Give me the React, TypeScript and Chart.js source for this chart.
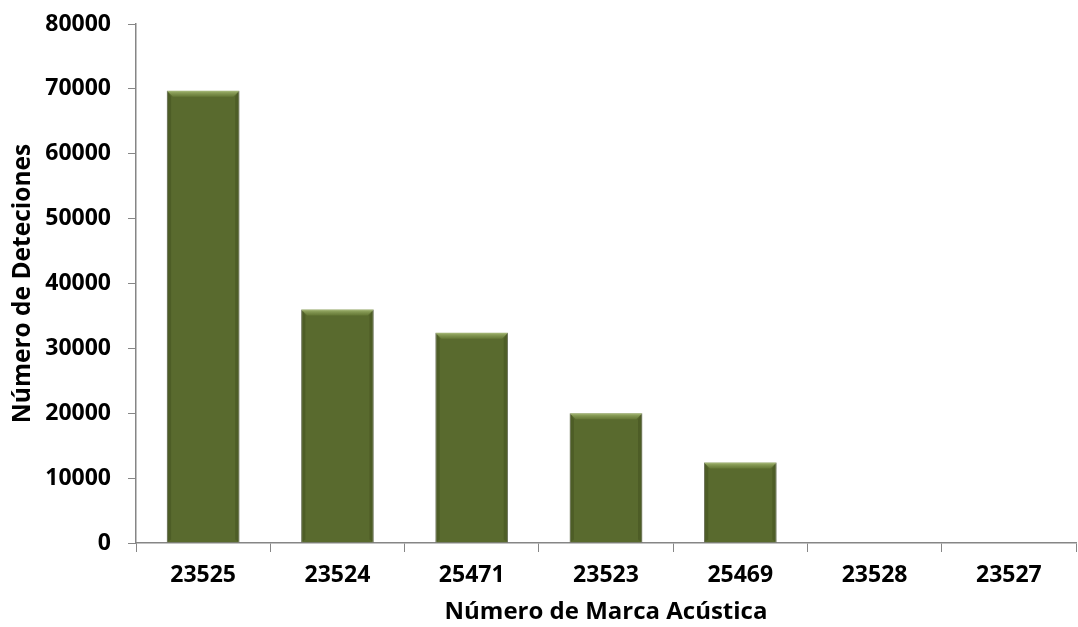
import React, { useEffect, useRef } from "react";
import { Chart, registerables } from "chart.js";

Chart.register(...registerables);

const categories = ["23525", "23524", "25471", "23523", "25469", "23528", "23527"];
const detections = [69700, 36000, 32400, 20000, 12400, 0, 0];
const yTicks = [0, 10000, 20000, 30000, 40000, 50000, 60000, 70000, 80000];

const FONT = "'Open Sans', 'Liberation Sans', sans-serif";

const bevelPlugin = {
  id: "bevel",
  afterDatasetsDraw(chart: any) {
    const ctx = chart.ctx;
    const meta = chart.getDatasetMeta(0);
    meta.data.forEach((bar: any) => {
      const { x, y, base, width } = bar.getProps(["x", "y", "base", "width"], true);
      const h = base - y;
      if (h < 2) return;
      const l = x - width / 2;
      const r = x + width / 2;
      const b = Math.min(6, h / 2);
      ctx.save();
      const g = ctx.createLinearGradient(0, y, 0, y + b);
      g.addColorStop(0, "rgba(165,185,115,0.95)");
      g.addColorStop(1, "rgba(110,130,60,0.6)");
      ctx.fillStyle = g;
      ctx.beginPath();
      ctx.moveTo(l, y);
      ctx.lineTo(r, y);
      ctx.lineTo(r - b, y + b);
      ctx.lineTo(l + b, y + b);
      ctx.closePath();
      ctx.fill();
      ctx.fillStyle = "rgba(65,80,30,0.5)";
      ctx.beginPath();
      ctx.moveTo(l, y);
      ctx.lineTo(l + b * 0.7, y + b);
      ctx.lineTo(l + b * 0.7, base - b * 0.5);
      ctx.lineTo(l, base);
      ctx.closePath();
      ctx.fill();
      ctx.beginPath();
      ctx.moveTo(r, y);
      ctx.lineTo(r - b * 0.7, y + b);
      ctx.lineTo(r - b * 0.7, base - b * 0.5);
      ctx.lineTo(r, base);
      ctx.closePath();
      ctx.fill();
      ctx.restore();
    });
  },
};

export default function App() {
  const ref = useRef<HTMLCanvasElement>(null);
  useEffect(() => {
    document.body.style.margin = "0";
    const chart = new Chart(ref.current!, {
      type: "bar",
      data: {
        labels: categories,
        datasets: [
          {
            data: detections,
            backgroundColor: "#596a2e",
            borderColor: "rgba(110,110,110,0.7)",
            borderWidth: 1,
            barPercentage: 0.54,
            categoryPercentage: 1,
          },
        ],
      },
      options: {
        animation: false,
        responsive: false,
        maintainAspectRatio: false,
        layout: { padding: { top: 24, right: 2, left: 0, bottom: 0 } },
        plugins: { legend: { display: false }, tooltip: { enabled: false } },
        scales: {
          x: {
            afterFit: (scale: any) => {
              scale.height = 84;
            },
            grid: {
              offset: true,
              drawOnChartArea: false,
              drawTicks: true,
              tickLength: 9,
              color: "#868686",
            },
            border: { color: "#868686", width: 1.5 },
            ticks: {
              color: "#000",
              font: { family: FONT, size: 23, weight: "bold" },
              padding: 10,
              maxRotation: 0,
            },
            title: {
              display: true,
              text: "Número de Marca Acústica",
              color: "#000",
              font: { family: FONT, size: 24, weight: "bold" },
              padding: { top: 0, bottom: 0 },
            },
          },
          y: {
            min: 0,
            max: 80000,
            afterFit: (scale: any) => {
              scale.width = 136;
              scale.paddingTop = 0;
              scale.paddingBottom = 0;
            },
            afterBuildTicks: (scale: any) => {
              scale.ticks = yTicks.map((v) => ({ value: v }));
            },
            grid: {
              drawOnChartArea: false,
              drawTicks: true,
              tickLength: 8,
              color: "#868686",
            },
            border: { color: "#868686", width: 1.5 },
            ticks: {
              color: "#000",
              font: { family: FONT, size: 23, weight: "bold" },
              padding: 17,
              callback: (v: any) => String(v),
            },
            title: {
              display: true,
              text: "Número de Deteciones",
              color: "#000",
              font: { family: FONT, size: 24.5, weight: "bold" },
              padding: { top: 8, bottom: 8 },
            },
          },
        },
      },
      plugins: [bevelPlugin],
    });
    return () => chart.destroy();
  }, []);
  return (
    <div style={{ width: 1078, height: 627 }}>
      <canvas ref={ref} width={1078} height={627} style={{ width: 1078, height: 627 }} />
    </div>
  );
}
